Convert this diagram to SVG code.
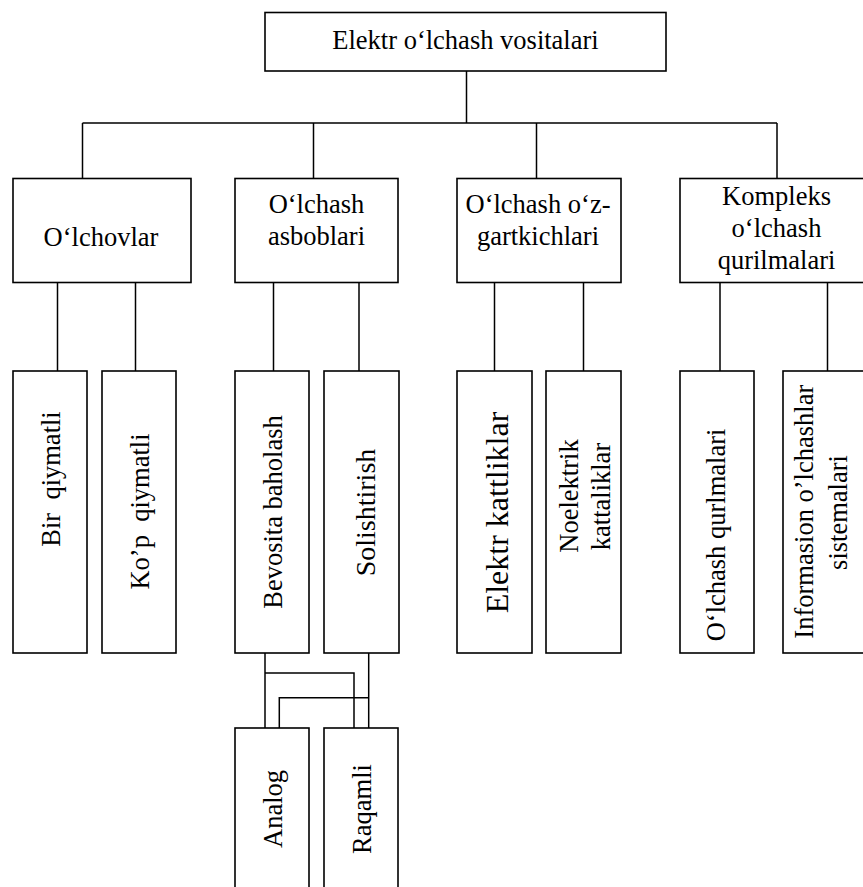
<svg xmlns="http://www.w3.org/2000/svg" width="863" height="887" viewBox="0 0 863 887">
<style>
rect{fill:#fff;stroke:#000;stroke-width:1.6}
.c path{fill:none;stroke:#000;stroke-width:1.5}
text{font-family:"Liberation Serif","Times New Roman",serif;font-size:26.5px;fill:#000;text-anchor:middle}
</style>
<rect x="0" y="0" width="863" height="887" style="stroke:none"/>
<g class="c" id="connectors">
<path d="M466.5,71 V123 M82.5,123 H777 M82.5,123 V178.5 M313.5,123 V178.5 M536.5,123 V178.5 M777,123 V178.5"/>
<path d="M57.5,282.5 V371 M135.5,282.5 V371 M273.5,282.5 V371 M359,282.5 V371 M494.5,282.5 V371 M583.5,282.5 V371 M720,282.5 V371 M827.5,282.5 V371"/>
<path d="M265,653 V728 M265,673 H354 V728 M368.7,653 V728 M368.7,697.7 H279.3 V728"/>
</g>
<g id="root"><rect x="265" y="12.5" width="401" height="58.5"/><text x="465.5" y="48.5">Elektr o‘lchash vositalari</text></g>
<g id="olchovlar"><rect x="13" y="178.5" width="178" height="104"/><text x="101" y="245.5">O‘lchovlar</text></g>
<g id="asboblar"><rect x="235" y="178.5" width="163" height="104"/><text x="316.5" y="213">O‘lchash</text><text x="316.5" y="245">asboblari</text></g>
<g id="ozgartkich"><rect x="457" y="178.5" width="164" height="104"/><text x="538" y="213">O‘lchash o‘z-</text><text x="538" y="245">gartkichlari</text></g>
<g id="kompleks"><rect x="680" y="178.5" width="200" height="104"/><text x="776.5" y="205">Kompleks</text><text x="776.5" y="237">o‘lchash</text><text x="776.5" y="268.5">qurilmalari</text></g>
<g id="bir"><rect x="13" y="371" width="74" height="282"/><text transform="translate(60,479) rotate(-90)" xml:space="preserve">Bir  qiymatli</text></g>
<g id="kop"><rect x="102" y="371" width="74" height="282"/><text transform="translate(148.5,511.5) rotate(-90)" xml:space="preserve">Ko’p  qiymatli</text></g>
<g id="bevosita"><rect x="235" y="371" width="74" height="282"/><text transform="translate(281.5,512) rotate(-90)">Bevosita baholash</text></g>
<g id="solishtirish"><rect x="324" y="371" width="75" height="282"/><text transform="translate(374.5,512.5) rotate(-90)" style="font-size:28px">Solishtirish</text></g>
<g id="elektr"><rect x="457" y="371" width="75" height="282"/><text transform="translate(508.3,512.5) rotate(-90)" style="font-size:32px">Elektr kattliklar</text></g>
<g id="noelektrik"><rect x="546" y="371" width="75" height="282"/><text transform="translate(578,496) rotate(-90)">Noelektrik</text><text transform="translate(609.5,496.5) rotate(-90)">kattaliklar</text></g>
<g id="qurilmalar"><rect x="680" y="371" width="74" height="282"/><text transform="translate(725,535) rotate(-90)">O‘lchash qurlmalari</text></g>
<g id="informasion"><rect x="783" y="371" width="100" height="282"/><text transform="translate(813.3,511.7) rotate(-90)">Informasion o’lchashlar</text><text transform="translate(846.7,512.5) rotate(-90)">sistemalari</text></g>
<g id="analog"><rect x="235" y="728" width="74" height="175"/><text transform="translate(281.7,809) rotate(-90)">Analog</text></g>
<g id="raqamli"><rect x="324" y="728" width="74" height="175"/><text transform="translate(370.7,809) rotate(-90)">Raqamli</text></g>
</svg>
